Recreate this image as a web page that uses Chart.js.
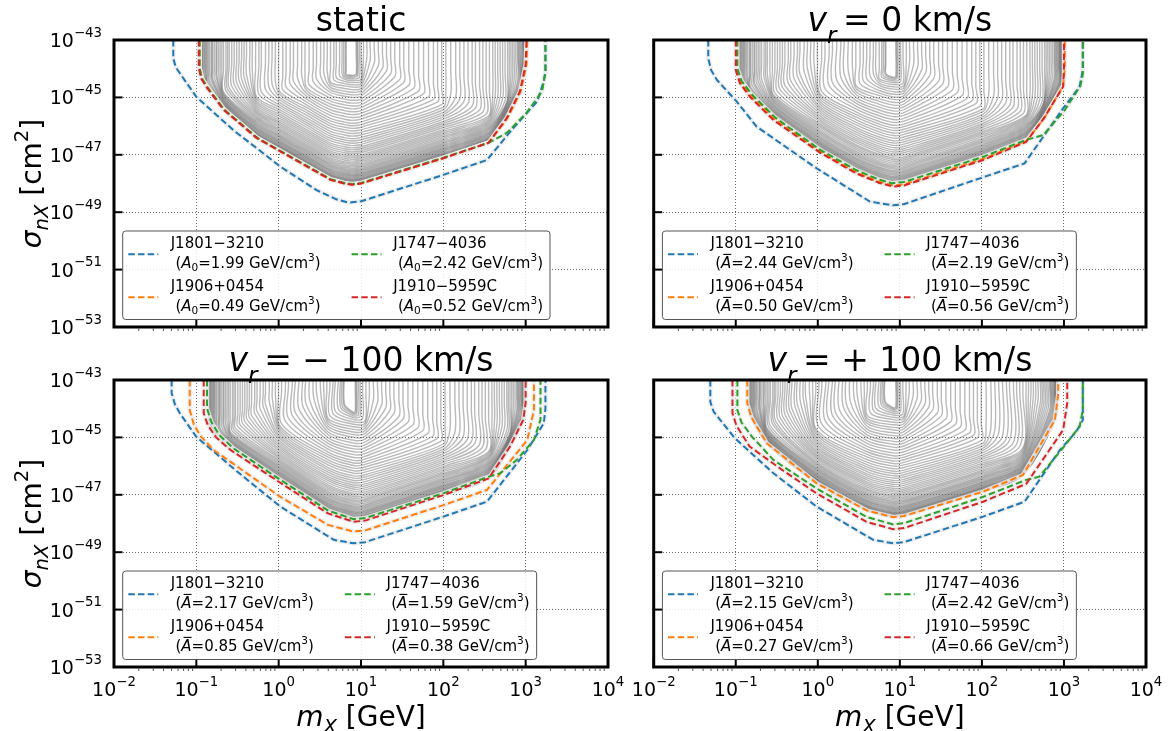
<!DOCTYPE html>
<html lang="en">
<head>
<meta charset="UTF-8">
<title>DM exclusion panels</title>
<script src="https://cdn.jsdelivr.net/npm/chart.js@4.4.0/dist/chart.umd.min.js"></script>
<style>
    body { margin: 0; background: #fff; }
    #wrap { position: relative; width: 1171px; height: 731px; }
    #wrap canvas { position: absolute; left: 0; top: 0; }
</style>
</head>
<body>
<div id="wrap">
    <canvas id="c0" width="1171" height="731"></canvas>
    <canvas id="c1" width="1171" height="731"></canvas>
    <canvas id="c2" width="1171" height="731"></canvas>
    <canvas id="c3" width="1171" height="731"></canvas>
</div>
<script>
// ---- data (log10 of m_X in GeV, log10 of sigma in cm^2) ----
const pulsars = ['J1801\u22123210', 'J1906+0454', 'J1747\u22124036', 'J1910\u22125959C'];
const colors = ['#1f77b4', '#ff7f0e', '#2ca02c', '#d62728'];
const xTickExp = [-2, -1, 0, 1, 2, 3, 4];
const yTickExp = [-43, -45, -47, -49, -51, -53];

const ampStatic = [1.99, 0.49, 2.42, 0.52];
const ampV0 = [2.44, 0.50, 2.19, 0.56];
const ampM100 = [2.17, 0.85, 1.59, 0.38];
const ampP100 = [2.15, 0.27, 2.42, 0.66];

// static
const stBlueM = [-1.28, -1.28, -1.25, -1.20, -1.00, -0.55, 0.02, 0.46, 0.70, 0.85, 1.00, 2.00, 2.53, 2.85, 3.14, 3.22, 3.24, 3.24];
const stBlueS = [-43.0, -43.64, -43.95, -44.16, -44.98, -46.14, -47.41, -48.23, -48.55, -48.67, -48.62, -47.70, -47.18, -46.07, -45.14, -44.44, -44.10, -43.0];
const stOrangeM = [-0.96, -0.96, -0.93, -0.86, -0.66, -0.26, 0.02, 0.34, 0.63, 0.80, 0.89, 1.00, 2.00, 2.55, 2.78, 2.94, 3.01, 3.02];
const stOrangeS = [-43.0, -43.98, -44.35, -44.67, -45.43, -46.41, -46.88, -47.40, -47.87, -48.00, -48.04, -48.00, -47.12, -46.58, -45.72, -44.79, -43.86, -43.0];
const stGreenM = [-0.96, -0.96, -0.93, -0.86, -0.66, -0.26, 0.02, 0.34, 0.63, 0.80, 0.89, 1.00, 2.00, 2.55, 2.77, 3.01, 3.20, 3.24, 3.24];
const stGreenS = [-43.0, -43.98, -44.35, -44.67, -45.43, -46.41, -46.86, -47.38, -47.85, -47.98, -48.02, -47.98, -47.10, -46.58, -46.24, -45.54, -44.79, -44.10, -43.0];
const stRedM = [-0.97, -0.97, -0.94, -0.87, -0.67, -0.27, 0.02, 0.34, 0.63, 0.80, 0.89, 1.00, 2.00, 2.55, 2.77, 2.93, 3.00, 3.01];
const stRedS = [-43.0, -43.98, -44.35, -44.67, -45.43, -46.41, -46.88, -47.40, -47.87, -48.00, -48.04, -48.00, -47.12, -46.58, -45.72, -44.79, -43.86, -43.0];

// v_r = 0
const v0BlueM = [-1.335, -1.335, -1.30, -1.23, -0.99, -0.745, -0.015, 0.635, 0.92, 1.05, 1.975, 2.52, 2.99, 3.19, 3.23, 3.23];
const v0BlueS = [-43.0, -43.64, -44.05, -44.39, -45.14, -46.02, -47.47, -48.63, -48.76, -48.72, -47.82, -47.30, -45.38, -44.63, -44.05, -43.0];
const v0OrangeM = [-0.99, -0.99, -0.94, -0.82, -0.53, 0.03, 0.47, 0.75, 0.92, 1.05, 2.015, 2.54, 2.76, 2.99, 3.01, 3.01];
const v0OrangeS = [-43.0, -44.02, -44.46, -44.93, -45.75, -46.89, -47.61, -47.94, -48.07, -48.03, -47.14, -46.52, -45.72, -44.60, -44.00, -43.0];
const v0GreenM = [-0.98, -0.98, -0.93, -0.81, -0.52, 0.03, 0.47, 0.75, 0.90, 1.05, 2.015, 2.54, 2.75, 3.01, 3.20, 3.23, 3.23];
const v0GreenS = [-43.0, -43.99, -44.42, -44.88, -45.70, -46.83, -47.54, -47.87, -47.99, -47.95, -47.07, -46.48, -46.31, -45.44, -44.60, -44.20, -43.0];
const v0RedM = [-1.00, -1.00, -0.95, -0.83, -0.54, 0.03, 0.47, 0.75, 0.92, 1.05, 2.015, 2.54, 2.75, 2.99, 3.00, 3.00];
const v0RedS = [-43.0, -44.05, -44.50, -44.97, -45.79, -46.93, -47.65, -47.98, -48.11, -48.07, -47.18, -46.55, -45.75, -44.63, -44.00, -43.0];

// v_r = -100 km/s
const m100BlueM = [-1.30, -1.30, -1.26, -1.20, -1.00, -0.50, 0.02, 0.67, 0.91, 1.05, 2.00, 2.53, 3.02, 3.22, 3.24, 3.24];
const m100BlueS = [-43.0, -43.46, -43.85, -44.16, -44.98, -46.20, -47.41, -48.57, -48.69, -48.65, -47.76, -47.24, -45.44, -44.51, -44.00, -43.0];
const m100OrangeM = [-1.08, -1.08, -1.03, -0.95, -0.79, 0.02, 0.60, 0.91, 1.05, 2.00, 2.53, 3.02, 3.10, 3.10];
const m100OrangeS = [-43.0, -44.05, -44.55, -44.95, -45.44, -47.07, -48.05, -48.28, -48.24, -47.36, -46.83, -45.09, -44.05, -43.0];
const m100GreenM = [-0.87, -0.87, -0.82, -0.72, -0.55, 0.02, 0.60, 0.91, 1.05, 2.00, 2.55, 2.69, 2.89, 3.10, 3.18, 3.18];
const m100GreenS = [-43.0, -43.99, -44.45, -44.92, -45.38, -46.48, -47.55, -47.85, -47.81, -46.95, -46.37, -46.25, -45.79, -45.09, -44.39, -43.0];
const m100RedM = [-0.91, -0.91, -0.86, -0.76, -0.58, 0.02, 0.60, 0.91, 1.05, 2.00, 2.55, 2.81, 2.97, 3.00, 3.00];
const m100RedS = [-43.0, -44.16, -44.58, -45.00, -45.45, -46.58, -47.65, -47.94, -47.90, -47.01, -46.43, -45.32, -44.39, -43.80, -43.0];

// v_r = +100 km/s
const p100BlueM = [-1.31, -1.31, -1.27, -1.19, -1.01, -0.54, -0.015, 0.675, 0.92, 1.05, 2.015, 2.52, 2.95, 3.15, 3.23, 3.23];
const p100BlueS = [-43.0, -43.76, -44.10, -44.39, -45.03, -46.25, -47.41, -48.57, -48.69, -48.65, -47.76, -47.24, -45.44, -44.80, -44.39, -43.0];
const p100OrangeM = [-0.86, -0.86, -0.81, -0.62, -0.015, 0.60, 0.92, 1.05, 2.015, 2.50, 2.89, 2.93, 2.93];
const p100OrangeS = [-43.0, -43.81, -44.30, -45.21, -46.60, -47.55, -47.78, -47.74, -46.89, -46.31, -44.39, -43.50, -43.0];
const p100GreenM = [-0.98, -0.98, -0.93, -0.80, -0.54, -0.015, 0.60, 0.92, 1.05, 2.015, 2.54, 2.70, 2.95, 3.19, 3.23, 3.23];
const p100GreenS = [-43.0, -44.05, -44.48, -44.98, -45.79, -46.78, -47.78, -48.03, -47.99, -47.07, -46.48, -46.37, -45.50, -44.63, -44.05, -43.0];
const p100RedM = [-1.04, -1.04, -0.99, -0.83, -0.45, -0.015, 0.60, 0.92, 1.05, 2.015, 2.54, 2.99, 3.04, 3.04];
const p100RedS = [-43.0, -44.16, -44.60, -45.32, -46.10, -46.95, -47.95, -48.20, -48.16, -47.24, -46.62, -44.74, -43.81, -43.0];

// background population: raise of each grey contour and how far its vertical edges move in
const greyDepth = [0.00, 0.015, 0.03, 0.045, 0.06, 0.08, 0.10, 0.12, 0.14, 0.16,
                   0.18, 0.21, 0.24, 0.27, 0.30, 0.33, 0.36, 0.40, 0.44, 0.48,
                   0.52, 0.56, 0.61, 0.66, 0.71, 0.76, 0.82, 0.88, 0.94, 1.00,
                   1.07, 1.14, 1.21, 1.28, 1.36, 1.44, 1.52, 1.60, 1.69, 1.78,
                   1.87, 1.96, 2.05, 2.14, 2.24, 2.34, 2.44, 2.54, 2.64, 2.74,
                   2.84, 2.94, 3.04, 3.13, 3.22, 3.31, 3.40, 3.48, 3.56, 3.63,
                   3.69, 3.74, 3.78, 3.81];
const greyLeftIn = [0.00, 0.007, 0.014, 0.021, 0.028, 0.037, 0.047, 0.056, 0.065, 0.074,
                    0.084, 0.098, 0.11, 0.13, 0.14, 0.15, 0.17, 0.19, 0.20, 0.22,
                    0.24, 0.26, 0.28, 0.31, 0.33, 0.35, 0.38, 0.41, 0.44, 0.47,
                    0.50, 0.53, 0.56, 0.60, 0.63, 0.67, 0.71, 0.74, 0.79, 0.83,
                    0.87, 0.91, 0.95, 1.00, 1.04, 1.09, 1.13, 1.18, 1.23, 1.27,
                    1.32, 1.37, 1.41, 1.46, 1.50, 1.54, 1.58, 1.62, 1.65, 1.69,
                    1.72, 1.74, 1.76, 1.77];
const greyRightIn = [0.00, 0.00, 0.005, 0.01, 0.015, 0.02, 0.025, 0.03, 0.035, 0.04,
                     0.05, 0.06, 0.07, 0.08, 0.09, 0.10, 0.12, 0.14, 0.16, 0.18,
                     0.20, 0.22, 0.25, 0.28, 0.31, 0.34, 0.37, 0.40, 0.44, 0.48,
                     0.52, 0.56, 0.61, 0.65, 0.70, 0.75, 0.80, 0.85, 0.91, 0.97,
                     1.02, 1.07, 1.12, 1.18, 1.24, 1.30, 1.36, 1.42, 1.48, 1.53,
                     1.59, 1.64, 1.69, 1.74, 1.79, 1.84, 1.89, 1.93, 1.97, 2.00,
                     2.02, 2.04, 2.05, 2.06];

const W = 1171, H = 731;
const FONT = '"DejaVu Sans"';

const panels = [
    { id: 'c0', area: [114, 40, 608, 327], title: [{ t: 'static' }], xLab: false, yLab: true,
      curves: [[stBlueM, stBlueS], [stOrangeM, stOrangeS], [stGreenM, stGreenS], [stRedM, stRedS]],
      grey: [stRedM, stRedS], greyEdges: [-0.95, 3.00], greyInner: [0.82, 0.94], amp: ampStatic, bar: false },
    { id: 'c1', area: [653.7, 40, 1146, 327],
      title: [{ t: 'v', it: 1 }, { t: 'r', it: 1, sub: 1 }, { t: '\u2009= 0 km/s' }], xLab: false, yLab: false,
      curves: [[v0BlueM, v0BlueS], [v0OrangeM, v0OrangeS], [v0GreenM, v0GreenS], [v0RedM, v0RedS]],
      grey: [v0RedM, v0RedS], greyEdges: [-0.97, 2.98], greyInner: [0.83, 0.95], amp: ampV0, bar: true },
    { id: 'c2', area: [114, 380, 608, 667],
      title: [{ t: 'v', it: 1 }, { t: 'r', it: 1, sub: 1 }, { t: '\u2009= \u2212 100 km/s' }], xLab: true, yLab: true,
      curves: [[m100BlueM, m100BlueS], [m100OrangeM, m100OrangeS], [m100GreenM, m100GreenS], [m100RedM, m100RedS]],
      grey: [m100RedM, m100RedS], greyEdges: [-0.85, 2.99], greyInner: [0.80, 0.93], amp: ampM100, bar: true },
    { id: 'c3', area: [653.7, 380, 1146, 667],
      title: [{ t: 'v', it: 1 }, { t: 'r', it: 1, sub: 1 }, { t: '\u2009= + 100 km/s' }], xLab: true, yLab: false,
      curves: [[p100BlueM, p100BlueS], [p100OrangeM, p100OrangeS], [p100GreenM, p100GreenS], [p100RedM, p100RedS]],
      grey: [p100OrangeM, p100OrangeS], greyEdges: [-0.84, 2.92], greyInner: [0.82, 0.95], amp: ampP100, bar: true }
];

// ---- text helpers ----
function drawRich(ctx, segs, x, y, size, align, drop, rise) {
    drop = drop || 0.22; rise = rise || 0.5;
    const parts = segs.map(sg => {
        const fs = (sg.sub || sg.sup) ? size * 0.7 : size;
        const font = (sg.it ? 'italic ' : '') + fs + 'px ' + FONT;
        ctx.font = font;
        return { t: sg.t, font, fs, bar: sg.bar, w: ctx.measureText(sg.t).width,
                 dy: sg.sub ? size * drop : (sg.sup ? -size * rise : 0) };
    });
    const total = parts.reduce((s, p) => s + p.w, 0);
    let cx = align === 'center' ? x - total / 2 : (align === 'right' ? x - total : x);
    ctx.textAlign = 'left';
    ctx.textBaseline = 'alphabetic';
    parts.forEach(p => {
        ctx.font = p.font;
        ctx.fillText(p.t, cx, y + p.dy);
        if (p.bar) ctx.fillRect(cx + p.w * 0.22, y - p.fs * 0.93, p.w * 0.78, 1.1);
        cx += p.w;
    });
    return total;
}
function measureRich(ctx, segs, size) {
    let w = 0;
    segs.forEach(sg => {
        const fs = (sg.sub || sg.sup) ? size * 0.7 : size;
        ctx.font = (sg.it ? 'italic ' : '') + fs + 'px ' + FONT;
        w += ctx.measureText(sg.t).width;
    });
    return w;
}
function expLabel(e) {
    return [{ t: '10' }, { t: (e < 0 ? '\u2212' : '') + Math.abs(e), sup: 1 }];
}
function legendLine2(val, bar) {
    const segs = [{ t: ' (' }, { t: 'A', it: 1, bar: bar }];
    if (!bar) segs.push({ t: '0', sub: 1 });
    segs.push({ t: '=' + val.toFixed(2) + ' GeV/cm' }, { t: '3', sup: 1 }, { t: ')' });
    return segs;
}

function seg(ctx, x1, y1, x2, y2) {
    ctx.beginPath(); ctx.moveTo(x1, y1); ctx.lineTo(x2, y2); ctx.stroke();
}

function makeDecor(pn) {
    return {
        id: 'decor',
        afterDraw(chart) {
            const ctx = chart.ctx, xs = chart.scales.x, ys = chart.scales.y, a = chart.chartArea;
            ctx.save();
            ctx.strokeStyle = '#000';
            ctx.fillStyle = '#000';
            ctx.setLineDash([]);

            // minor x ticks (outside)
            ctx.lineWidth = 0.9;
            ctx.strokeStyle = '#444';
            for (let d = -2; d < 4; d++) {
                for (let k = 2; k < 10; k++) {
                    const px = xs.getPixelForValue(k * Math.pow(10, d));
                    seg(ctx, px, a.bottom + 1.5, px, a.bottom + 4);
                }
            }
            // major ticks (inside)
            ctx.strokeStyle = '#000';
            ctx.lineWidth = 2;
            xTickExp.forEach(e => {
                const px = xs.getPixelForValue(Math.pow(10, e));
                seg(ctx, px, a.bottom, px, a.bottom - 8.5);
            });
            yTickExp.forEach(e => {
                const py = ys.getPixelForValue(Math.pow(10, e));
                seg(ctx, a.left, py, a.left + 8.5, py);
            });
            // frame
            ctx.lineWidth = 3;
            ctx.strokeRect(a.left, a.top, a.right - a.left, a.bottom - a.top);

            // tick labels and axis titles
            if (pn.xLab) {
                xTickExp.forEach(e => {
                    drawRich(ctx, expLabel(e), xs.getPixelForValue(Math.pow(10, e)), a.bottom + 29, 19, 'center', 0.22, 0.55);
                });
                drawRich(ctx, [{ t: 'm', it: 1 }, { t: 'X', it: 1, sub: 1 }, { t: ' [GeV]' }],
                         (a.left + a.right) / 2, 726, 28, 'center', 0.25, 0.45);
            }
            if (pn.yLab) {
                yTickExp.forEach(e => {
                    drawRich(ctx, expLabel(e), a.left - 12, ys.getPixelForValue(Math.pow(10, e)) + 7, 19, 'right', 0.22, 0.55);
                });
                ctx.save();
                ctx.translate(41, (a.top + a.bottom) / 2);
                ctx.rotate(-Math.PI / 2);
                drawRich(ctx, [{ t: '\u03c3', it: 1 }, { t: 'nX', it: 1, sub: 1 }, { t: ' [cm' }, { t: '2', sup: 1 }, { t: ']' }],
                         0, 0, 28, 'center', 0.25, 0.45);
                ctx.restore();
            }
            // title
            drawRich(ctx, pn.title, (a.left + a.right) / 2, a.top - 9, 33, 'center', 0.35, 0.5);

            // legend
            const bx = a.left + 8.7, by = a.top + 191;
            const fs = 15;
            const l1 = pulsars.map(n => [{ t: n }]);
            const l2 = pn.amp.map(v => legendLine2(v, pn.bar));
            const col1W = Math.max(measureRich(ctx, l1[0], fs), measureRich(ctx, l2[0], fs),
                                   measureRich(ctx, l1[1], fs), measureRich(ctx, l2[1], fs));
            const col2W = Math.max(measureRich(ctx, l1[2], fs), measureRich(ctx, l2[2], fs),
                                   measureRich(ctx, l1[3], fs), measureRich(ctx, l2[3], fs));
            const hx1 = bx + 5.6, tx1 = bx + 48;
            const hx2 = tx1 + col1W + 31, tx2 = hx2 + 41.6;
            const bw = tx2 + col2W + 7 - bx, bh = 88.5;
            ctx.beginPath();
            ctx.roundRect(bx, by, bw, bh, 3);
            ctx.fillStyle = 'rgba(255,255,255,0.85)';
            ctx.fill();
            ctx.lineWidth = 1;
            ctx.strokeStyle = '#555';
            ctx.stroke();
            const slots = [[hx1, tx1, 0], [hx1, tx1, 43], [hx2, tx2, 0], [hx2, tx2, 43]];
            slots.forEach((s, i) => {
                ctx.strokeStyle = colors[i];
                ctx.lineWidth = 2;
                ctx.setLineDash([6.5, 3.2]);
                seg(ctx, s[0], by + 23.3 + s[2], s[0] + 30, by + 23.3 + s[2]);
                ctx.setLineDash([]);
                ctx.fillStyle = '#000';
                drawRich(ctx, l1[i], s[1], by + 17.2 + s[2], fs, 'left');
                drawRich(ctx, l2[i], s[1], by + 36.8 + s[2], fs, 'left', 0.2, 0.45);
            });
            ctx.restore();
        }
    };
}

function pts(m, s) {
    return m.map((v, i) => ({ x: Math.pow(10, v), y: Math.pow(10, s[i]) }));
}

function greySets(pn) {
    const tm = pn.grey[0], ts = pn.grey[1], edges = pn.greyEdges;
    const last = greyDepth.length - 1;
    // stretch the shared edge profile so its innermost contour lands where this panel's does
    const fl = (pn.greyInner[0] - edges[0]) / greyLeftIn[last];
    const fr = (edges[1] - pn.greyInner[1]) / greyRightIn[last];
    return greyDepth.map((dz, k) => {
        const lo = edges[0] + greyLeftIn[k] * fl, hi = edges[1] - greyRightIn[k] * fr;
        return {
            data: tm.map((v, i) => ({ x: Math.pow(10, Math.min(hi, Math.max(lo, v))), y: Math.pow(10, ts[i] + dz) })),
            borderColor: 'rgba(110,110,110,0.48)',
            borderWidth: 1.4,
            tension: 0.3,
            order: 10
        };
    });
}

panels.forEach(pn => {
    const datasets = [];
    // dashed limits; red on top, then green, orange, blue
    const drawOrder = [3, 2, 1, 0];
    pn.curves.forEach((c, i) => {
        datasets.push({
            data: pts(c[0], c[1]),
            borderColor: colors[i],
            borderWidth: 2,
            borderDash: [6.5, 3.2],
            order: drawOrder[i]
        });
        datasets.push({
            data: pts(c[0], c[1]),
            borderColor: 'rgba(236,236,236,0.85)',
            borderWidth: 4.5,
            order: 5
        });
    });
    greySets(pn).forEach(d => datasets.push(d));

    const a = pn.area;
    new Chart(document.getElementById(pn.id), {
        type: 'line',
        data: { datasets },
        options: {
            responsive: false,
            animation: false,
            devicePixelRatio: 1,
            events: [],
            layout: { padding: { left: a[0], top: a[1], right: W - a[2], bottom: H - a[3] } },
            elements: { point: { radius: 0 }, line: { tension: 0, fill: false } },
            plugins: { legend: { display: false }, tooltip: { enabled: false } },
            scales: {
                x: {
                    type: 'logarithmic', min: 1e-2, max: 1e4,
                    ticks: { display: false },
                    grid: { color: 'rgba(0,0,0,0.75)', lineWidth: 0.8, drawTicks: false },
                    border: { display: false, dash: [1, 2] },
                    afterBuildTicks: s => { s.ticks = [-1, 0, 1, 2, 3].map(e => ({ value: Math.pow(10, e) })); },
                    afterFit: s => { s.height = 0; }
                },
                y: {
                    type: 'logarithmic', min: 1e-53, max: 1e-43,
                    ticks: { display: false },
                    grid: { color: 'rgba(0,0,0,0.75)', lineWidth: 0.8, drawTicks: false },
                    border: { display: false, dash: [1, 2] },
                    afterBuildTicks: s => { s.ticks = [-45, -47, -49, -51].map(e => ({ value: Math.pow(10, e) })); },
                    afterFit: s => { s.width = 0; }
                }
            }
        },
        plugins: [makeDecor(pn)]
    });
});
</script>
</body>
</html>
